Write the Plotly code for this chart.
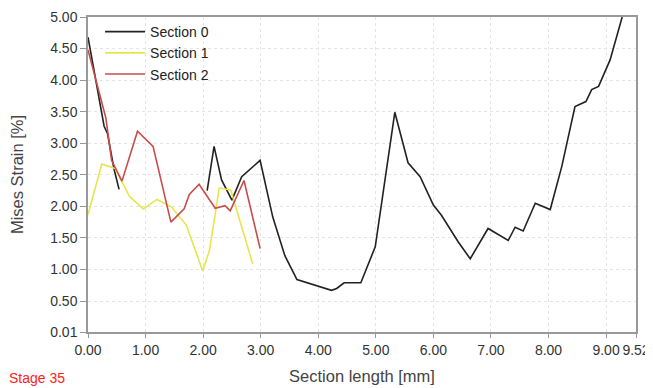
import plotly.graph_objects as go

# Section 0 (black) - gap between the two parts
s0_x = [0.00, 0.14, 0.28, 0.34, 0.45, 0.54, None,
        2.07, 2.19, 2.32, 2.50, 2.67, 2.99, 3.21, 3.42, 3.63, 4.23, 4.32, 4.45, 4.74,
        4.99, 5.33, 5.56, 5.77, 6.00, 6.14, 6.43, 6.64, 6.95, 7.30, 7.42, 7.56, 7.77,
        8.03, 8.23, 8.46, 8.65, 8.75, 8.87, 9.07, 9.28]
s0_y = [4.68, 3.95, 3.27, 3.15, 2.60, 2.27, None,
        2.25, 2.95, 2.42, 2.10, 2.47, 2.73, 1.83, 1.22, 0.84, 0.67, 0.70, 0.79, 0.79,
        1.36, 3.49, 2.69, 2.47, 2.02, 1.86, 1.44, 1.17, 1.65, 1.46, 1.67, 1.61, 2.05,
        1.95, 2.63, 3.58, 3.66, 3.85, 3.90, 4.32, 5.00]

# Section 1 (yellow)
s1_x = [0.00, 0.24, 0.47, 0.72, 0.96, 1.20, 1.45, 1.71, 1.99, 2.11, 2.28, 2.48, 2.86]
s1_y = [1.87, 2.67, 2.60, 2.16, 1.96, 2.11, 1.99, 1.70, 0.98, 1.30, 2.29, 2.26, 1.09]

# Section 2 (red)
s2_x = [0.00, 0.31, 0.41, 0.59, 0.86, 1.13, 1.44, 1.67, 1.76, 1.93, 2.21, 2.38, 2.47, 2.71, 2.99]
s2_y = [4.48, 3.40, 2.73, 2.40, 3.19, 2.95, 1.75, 1.96, 2.19, 2.35, 1.97, 2.01, 1.93, 2.41, 1.33]

x_ticks = [0, 1, 2, 3, 4, 5, 6, 7, 8, 9, 9.52]
x_tick_text = ["0.00", "1.00", "2.00", "3.00", "4.00", "5.00", "6.00", "7.00", "8.00", "9.00", "9.52"]
y_ticks = [0.01, 0.5, 1.0, 1.5, 2.0, 2.5, 3.0, 3.5, 4.0, 4.5, 5.0]
y_tick_text = ["0.01", "0.50", "1.00", "1.50", "2.00", "2.50", "3.00", "3.50", "4.00", "4.50", "5.00"]

FONT = "Liberation Sans, Arial, sans-serif"

fig = go.Figure()
fig.add_trace(go.Scatter(x=s0_x, y=s0_y, mode="lines", name="Section 0",
                         line=dict(color="#222222", width=1.6), connectgaps=False))
fig.add_trace(go.Scatter(x=s1_x, y=s1_y, mode="lines", name="Section 1",
                         line=dict(color="#e6e64a", width=1.6)))
fig.add_trace(go.Scatter(x=s2_x, y=s2_y, mode="lines", name="Section 2",
                         line=dict(color="#c94c4c", width=1.6)))

# the page body has an 8px default margin, so the figure is 645x380 and sits at (8, 8)
fig.update_layout(
    width=645, height=380,
    margin=dict(l=80, r=17, t=9, b=56, autoexpand=False),
    paper_bgcolor="white", plot_bgcolor="white",
    font=dict(family=FONT, size=14, color="#333333"),
    showlegend=True,
    legend=dict(x=0.022, y=1.003, xanchor="left", yanchor="top",
                bgcolor="rgba(0,0,0,0)", font=dict(size=14, color="#222222"),
                tracegroupgap=0, itemwidth=40),
    xaxis=dict(
        range=[0, 9.52], tickvals=x_ticks, ticktext=x_tick_text,
        showgrid=True, gridcolor="#e4e4e4", griddash="dot", gridwidth=1,
        showline=True, linecolor="#999999", linewidth=1.5, mirror=True,
        ticks="outside", ticklen=4, tickcolor="#999999",
        zeroline=False, automargin=False,
        title=dict(text="Section length [mm]", font=dict(size=16.5, color="#444444"), standoff=14),
        tickfont=dict(size=14, color="#333333"),
    ),
    yaxis=dict(
        range=[0.01, 5.0], tickvals=y_ticks, ticktext=y_tick_text,
        showgrid=True, gridcolor="#e4e4e4", griddash="dot", gridwidth=1,
        showline=True, linecolor="#999999", linewidth=1.5, mirror=True,
        ticks="outside", ticklen=6, tickcolor="#999999",
        zeroline=False, automargin=False,
        title=dict(text="Mises Strain [%]", font=dict(size=16.5, color="#444444"), standoff=22),
        tickfont=dict(size=14, color="#333333"),
    ),
    annotations=[dict(text="Stage 35", xref="paper", yref="paper", x=-0.148, y=-0.177,
                      xanchor="left", yanchor="bottom", showarrow=False,
                      font=dict(size=14, color="#ff2020", family=FONT))],
)

fig.write_html("out.html")
